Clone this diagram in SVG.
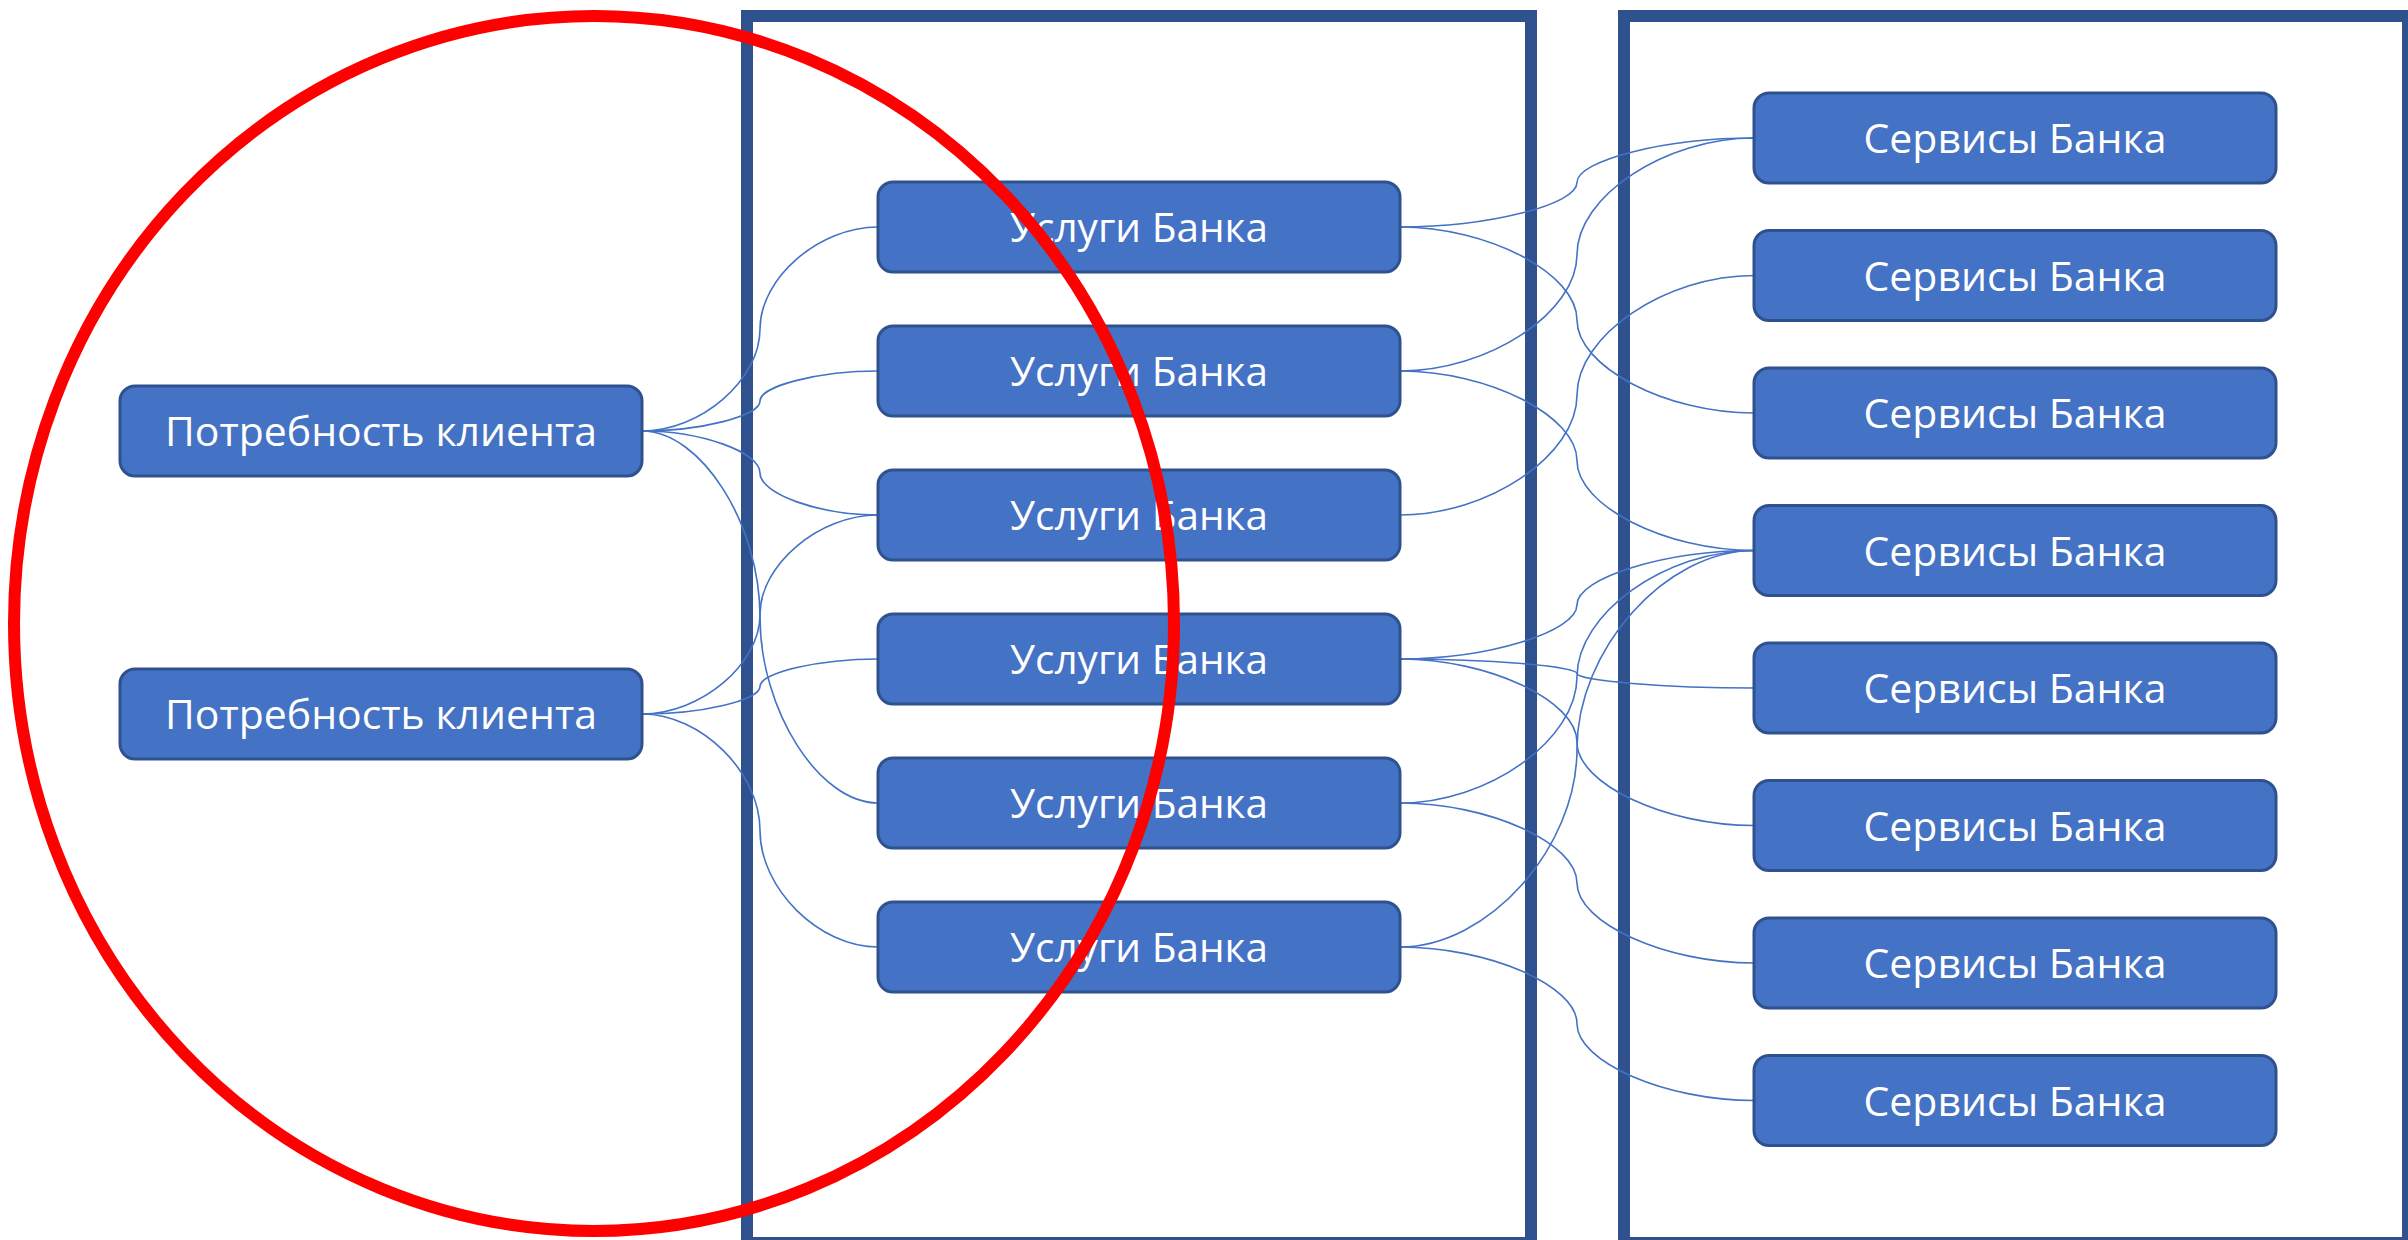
<svg xmlns="http://www.w3.org/2000/svg" width="2408" height="1240" viewBox="0 0 2408 1240">
<style>
.container{fill:none;stroke:#2F528F;stroke-width:12}
.node rect{fill:#4472C4;stroke:#2F528F;stroke-width:3}
.node text{fill:#FFFFFF;font-family:"Open Sans","Noto Sans","Liberation Sans",sans-serif;font-size:40px;text-anchor:middle}
.conn path{fill:none;stroke:#4472C4;stroke-width:1.6}
.highlight{fill:none;stroke:#FF0000;stroke-width:12}
</style>
<rect width="2408" height="1240" fill="#FFFFFF"/>
<g id="containers">
<rect class="container" x="747" y="16" width="784" height="1227"/>
<rect class="container" x="1624" y="16" width="784" height="1227"/>
</g>
<g id="connectors" class="conn">
<path d="M642,431 C701,431 760,380 760,329 C760,278 819,227 878,227"/>
<path d="M642,431 C701,431 760,416 760,401 C760,386 819,371 878,371"/>
<path d="M642,431 C701,431 760,452 760,473 C760,494 819,515 878,515"/>
<path d="M642,431 C701,431 760,524 760,617 C760,710 819,803 878,803"/>
<path d="M642,714 C701,714 760,664.25 760,614.5 C760,564.75 819,515 878,515"/>
<path d="M642,714 C701,714 760,700.25 760,686.5 C760,672.75 819,659 878,659"/>
<path d="M642,714 C701,714 760,772.25 760,830.5 C760,888.75 819,947 878,947"/>
<path d="M1400,227 C1488.5,227 1577,204.75 1577,182.5 C1577,160.25 1665.5,138 1754,138"/>
<path d="M1400,227 C1488.5,227 1577,273.5 1577,320 C1577,366.5 1665.5,413 1754,413"/>
<path d="M1400,371 C1488.5,371 1577,312.75 1577,254.5 C1577,196.25 1665.5,138 1754,138"/>
<path d="M1400,371 C1488.5,371 1577,415.875 1577,460.75 C1577,505.625 1665.5,550.5 1754,550.5"/>
<path d="M1400,515 C1488.5,515 1577,455.125 1577,395.25 C1577,335.375 1665.5,275.5 1754,275.5"/>
<path d="M1400,659 C1488.5,659 1577,631.875 1577,604.75 C1577,577.625 1665.5,550.5 1754,550.5"/>
<path d="M1400,659 C1488.5,659 1577,666.25 1577,673.5 C1577,680.75 1665.5,688 1754,688"/>
<path d="M1400,659 C1488.5,659 1577,700.625 1577,742.25 C1577,783.875 1665.5,825.5 1754,825.5"/>
<path d="M1400,803 C1488.5,803 1577,739.875 1577,676.75 C1577,613.625 1665.5,550.5 1754,550.5"/>
<path d="M1400,803 C1488.5,803 1577,843 1577,883 C1577,923 1665.5,963 1754,963"/>
<path d="M1400,947 C1488.5,947 1577,847.875 1577,748.75 C1577,649.625 1665.5,550.5 1754,550.5"/>
<path d="M1400,947 C1488.5,947 1577,985.375 1577,1023.75 C1577,1062.125 1665.5,1100.5 1754,1100.5"/>
</g>
<g id="need1" class="node"><rect x="120" y="386" width="522" height="90" rx="15"/><text x="381" y="446" textLength="432" lengthAdjust="spacingAndGlyphs">Потребность клиента</text></g>
<g id="need2" class="node"><rect x="120" y="669" width="522" height="90" rx="15"/><text x="381" y="729" textLength="432" lengthAdjust="spacingAndGlyphs">Потребность клиента</text></g>
<g id="service-u1" class="node"><rect x="878" y="182" width="522" height="90" rx="15"/><text x="1139" y="242" textLength="258" lengthAdjust="spacingAndGlyphs">Услуги Банка</text></g>
<g id="service-u2" class="node"><rect x="878" y="326" width="522" height="90" rx="15"/><text x="1139" y="386" textLength="258" lengthAdjust="spacingAndGlyphs">Услуги Банка</text></g>
<g id="service-u3" class="node"><rect x="878" y="470" width="522" height="90" rx="15"/><text x="1139" y="530" textLength="258" lengthAdjust="spacingAndGlyphs">Услуги Банка</text></g>
<g id="service-u4" class="node"><rect x="878" y="614" width="522" height="90" rx="15"/><text x="1139" y="674" textLength="258" lengthAdjust="spacingAndGlyphs">Услуги Банка</text></g>
<g id="service-u5" class="node"><rect x="878" y="758" width="522" height="90" rx="15"/><text x="1139" y="818" textLength="258" lengthAdjust="spacingAndGlyphs">Услуги Банка</text></g>
<g id="service-u6" class="node"><rect x="878" y="902" width="522" height="90" rx="15"/><text x="1139" y="962" textLength="258" lengthAdjust="spacingAndGlyphs">Услуги Банка</text></g>
<g id="bank-s1" class="node"><rect x="1754" y="93" width="522" height="90" rx="15"/><text x="2015" y="153" textLength="303" lengthAdjust="spacingAndGlyphs">Сервисы Банка</text></g>
<g id="bank-s2" class="node"><rect x="1754" y="230.5" width="522" height="90" rx="15"/><text x="2015" y="290.5" textLength="303" lengthAdjust="spacingAndGlyphs">Сервисы Банка</text></g>
<g id="bank-s3" class="node"><rect x="1754" y="368" width="522" height="90" rx="15"/><text x="2015" y="428" textLength="303" lengthAdjust="spacingAndGlyphs">Сервисы Банка</text></g>
<g id="bank-s4" class="node"><rect x="1754" y="505.5" width="522" height="90" rx="15"/><text x="2015" y="565.5" textLength="303" lengthAdjust="spacingAndGlyphs">Сервисы Банка</text></g>
<g id="bank-s5" class="node"><rect x="1754" y="643" width="522" height="90" rx="15"/><text x="2015" y="703" textLength="303" lengthAdjust="spacingAndGlyphs">Сервисы Банка</text></g>
<g id="bank-s6" class="node"><rect x="1754" y="780.5" width="522" height="90" rx="15"/><text x="2015" y="840.5" textLength="303" lengthAdjust="spacingAndGlyphs">Сервисы Банка</text></g>
<g id="bank-s7" class="node"><rect x="1754" y="918" width="522" height="90" rx="15"/><text x="2015" y="978" textLength="303" lengthAdjust="spacingAndGlyphs">Сервисы Банка</text></g>
<g id="bank-s8" class="node"><rect x="1754" y="1055.5" width="522" height="90" rx="15"/><text x="2015" y="1115.5" textLength="303" lengthAdjust="spacingAndGlyphs">Сервисы Банка</text></g>
<g id="highlight-ellipse"><ellipse class="highlight" cx="594" cy="623.5" rx="580" ry="607.5"/></g>
</svg>
